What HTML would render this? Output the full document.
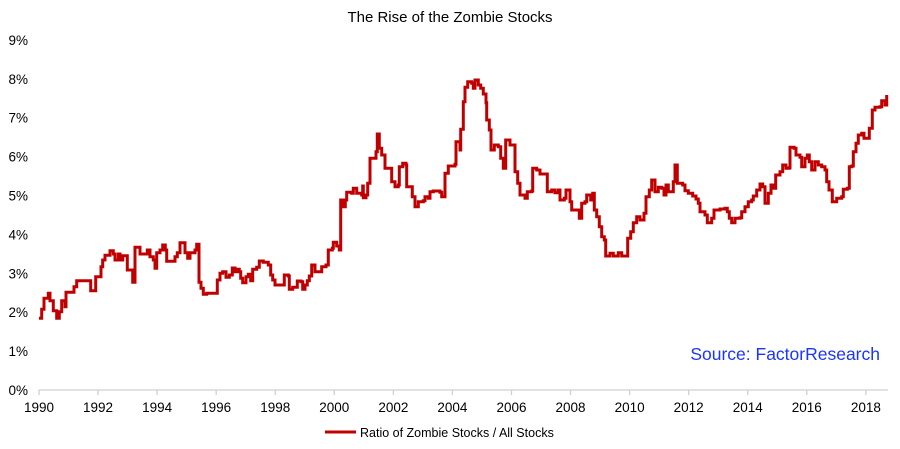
<!DOCTYPE html>
<html><head><meta charset="utf-8"><style>
html,body{margin:0;padding:0;background:#fff;}
svg{display:block;font-family:"Liberation Sans",Arial,sans-serif;}
</style></head><body>
<svg id="c" width="900" height="449" viewBox="0 0 900 449">
<rect width="900" height="449" fill="#fff"/>
<text x="450" y="22" text-anchor="middle" font-size="15" fill="#000">The Rise of the Zombie Stocks</text>
<g font-size="13.5" fill="#000" text-anchor="end" id="yl"></g>
<line x1="39" y1="390" x2="888" y2="390" stroke="#d0d0d0" stroke-width="1.3"/>
<g id="xt" stroke="#d0d0d0" stroke-width="1.3"></g>
<g font-size="13.5" fill="#000" text-anchor="middle" id="xl"></g>
<path id="ln" fill="none" stroke="#c00000" stroke-width="3" stroke-linejoin="miter"/>
<text x="880" y="360" text-anchor="end" font-size="17.5" fill="#1a35ff">Source: FactorResearch</text>
<line x1="325" y1="432" x2="356" y2="432" stroke="#c00000" stroke-width="3"/>
<text x="360" y="437" font-size="12.5" fill="#000">Ratio of Zombie Stocks / All Stocks</text>
</svg>
<script>
var ns="http://www.w3.org/2000/svg";
function el(t,a,p,txt){var e=document.createElementNS(ns,t);for(var k in a)e.setAttribute(k,a[k]);if(txt)e.textContent=txt;document.getElementById(p).appendChild(e);}
for(var i=0;i<=9;i++){el("text",{x:28,y:390-38.9*i+5},"yl",i+"%");}
for(var y=1990;y<=2018;y+=2){var x=39+(y-1990)*29.53;el("line",{x1:x,y1:390,x2:x,y2:395},"xt");el("text",{x:x,y:412},"xl",""+y);}
var a=[117,865,125,838,132,805,145,790,150,812,160,842,170,865,178,845,185,812,195,830,198,787,218,787,222,770,230,752,270,752,272,782,285,782,287,740,300,740,303,710,308,690,315,676,330,662,340,672,345,690,355,672,360,690,368,677,380,677,382,720,395,720,398,757,403,757,405,652,418,652,420,672,438,672,442,660,450,680,460,690,465,715,470,668,480,660,488,645,496,660,500,694,520,694,525,680,532,668,540,638,550,638,555,668,563,685,570,668,585,660,590,643,595,643,597,757,603,775,610,793,620,790,648,790,652,750,660,730,668,725,678,742,688,735,697,714,705,725,712,718,718,725,722,745,728,758,738,740,745,733,752,752,758,718,770,712,778,693,790,697,805,705,812,735,818,750,825,765,850,765,853,735,865,738,868,778,878,772,888,772,892,753,903,755,908,778,915,765,922,752,928,738,935,705,945,725,960,725,965,710,978,705,985,660,997,655,1000,637,1010,648,1018,660,1022,510,1030,530,1036,510,1040,487,1055,490,1060,475,1070,490,1085,495,1088,468,1090,503,1098,495,1103,460,1110,385,1125,385,1128,365,1132,312,1138,355,1145,375,1155,415,1170,415,1175,455,1185,470,1195,465,1198,410,1208,400,1218,405,1220,470,1235,470,1237,500,1245,530,1255,515,1270,512,1275,500,1285,505,1290,485,1300,483,1320,487,1325,500];
var b=[5,500,15,430,25,408,45,403,48,335,60,360,62,298,70,215,75,172,83,155,95,160,100,175,105,150,115,165,122,175,130,192,138,218,140,270,148,300,153,360,163,345,175,350,182,385,190,415,197,330,210,345,220,345,225,425,233,460,240,495,250,495,255,505,262,485,275,483,278,415,290,420,300,432,320,432,322,485,335,480,345,488,355,480,360,510,373,505,378,480,390,515,395,540,410,540,418,565,425,520,435,515,440,495,452,510,458,490,463,540,470,560,478,590,485,620,493,630,497,678,510,670,520,678,535,668,545,678,560,678,563,625,572,605,580,578,590,560,600,570,612,550,618,500,628,480,635,450,645,485,655,472,665,475,672,495,678,465,685,485,700,455,705,405,712,460,728,465,735,482,745,490,758,498,768,507,775,520,780,545,795,555,802,578,815,565,822,540,840,537,855,535,862,545,868,565,875,578,885,565,900,563,905,545,915,530,925,515,935,510,940,498,950,480,960,462,968,470,975,520,985,490,993,465,1002,475,1007,435,1020,425,1028,405,1038,415,1048,413,1050,352,1062,355,1068,375,1080,382,1085,410,1095,385,1102,375,1108,395,1115,420,1125,395,1135,405,1145,410,1155,420,1160,455,1167,480,1177,515,1190,505,1205,500,1210,478,1222,475,1228,410,1235,408,1240,365,1248,340,1255,315,1265,310,1272,325,1282,325,1288,295,1297,240,1305,232,1320,230,1325,212,1335,225,1340,195];
var p=[];for(var i=0;i<a.length;i+=2)p.push([a[i]/3,30+a[i+1]/3]);
for(var i=0;i<b.length;i+=2)p.push([440+b[i]/3,30+b[i+1]/3]);
var d="M"+p[0][0].toFixed(1)+" "+p[0][1].toFixed(1);
for(var i=1;i<p.length;i++){d+=" H"+p[i][0].toFixed(1)+" V"+p[i][1].toFixed(1);}
document.getElementById("ln").setAttribute("d",d);
</script>
</body></html>
